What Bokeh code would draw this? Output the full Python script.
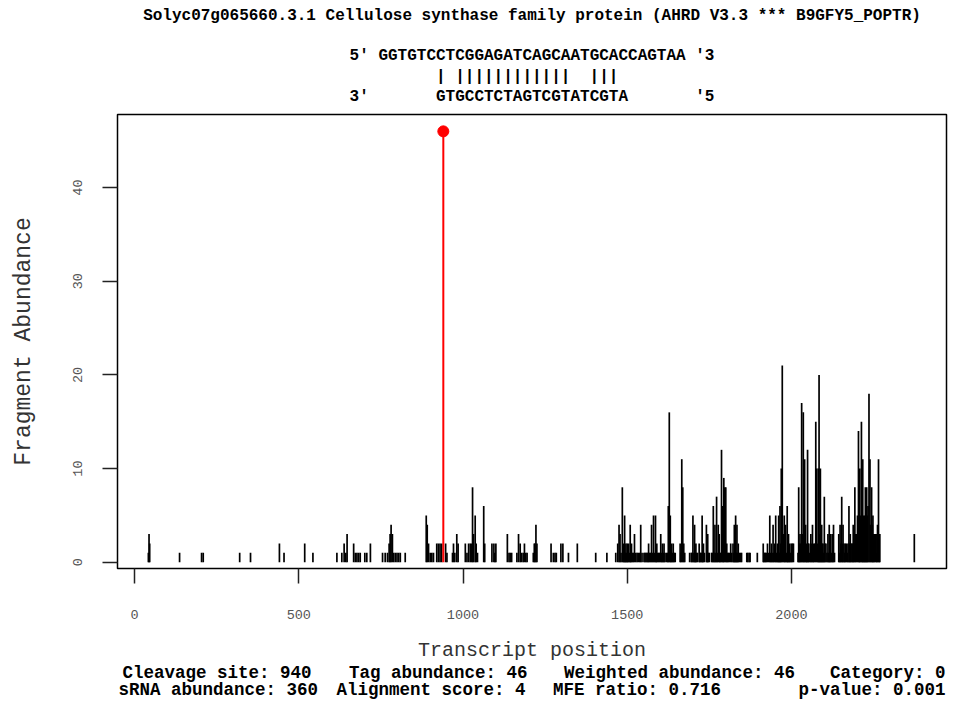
from bokeh.plotting import figure
from bokeh.layouts import column
from bokeh.models import Range1d, FixedTicker, Label, ColumnDataSource
from bokeh.embed import file_html
from bokeh.resources import INLINE

# ---------------- data ----------------
title_text = "Solyc07g065660.3.1 Cellulose synthase family protein (AHRD V3.3 *** B9GFY5_POPTR)"
target_seq = "GGTGTCCTCGGAGATCAGCAATGCACCAGTAA"
srna_seq = "GTGCCTCTAGTCGTATCGTA"      # written 3' -> 5'
srna_offset = 6                         # index in target where sRNA starts
cleavage_site = 940
tag_abundance = 46

info_line1 = ["Cleavage site: 940", "Tag abundance: 46", "Weighted abundance: 46", "Category: 0"]
info_line2 = ["sRNA abundance: 360", "Alignment score: 4", "MFE ratio: 0.716", "p-value: 0.001"]

x_ticks = [0, 500, 1000, 1500, 2000]
y_ticks = [0, 10, 20, 30, 40]

positions = [
    42, 44, 46, 137, 204, 209, 320, 353, 441, 455, 518, 543,
    616, 631, 638, 643, 647, 667, 672, 677, 682, 687, 701, 707, 718,
    755, 763, 770, 775, 778, 781, 785, 789, 794, 799, 804, 809, 824,
    888, 891, 895, 900, 905, 910, 920, 925, 930, 935, 947, 951, 968, 971, 975,
    981, 985, 1007, 1012, 1017, 1022, 1026, 1029, 1032, 1037, 1040, 1044,
    1063, 1066, 1088, 1094, 1097, 1100, 1135, 1140, 1144, 1148, 1164, 1169,
    1174, 1178, 1183, 1187, 1191, 1195,
    1214, 1217, 1219, 1222, 1225, 1268, 1275, 1280, 1284, 1298, 1304, 1321,
    1348, 1404, 1438,
    1465, 1471, 1475, 1478, 1481, 1485, 1488, 1490, 1492, 1494, 1496, 1498,
    1500, 1502, 1504, 1507, 1509, 1511, 1513, 1516, 1519, 1522, 1526, 1530,
    1534, 1538, 1541, 1545, 1551, 1554, 1557, 1560, 1563, 1565, 1568, 1571,
    1574, 1577, 1580, 1583, 1586, 1588, 1590, 1593, 1596, 1599, 1602, 1605,
    1607, 1610, 1612, 1615, 1620, 1623, 1625, 1628, 1631, 1633, 1635, 1638,
    1640, 1643, 1646, 1661, 1663, 1666, 1669, 1672, 1675, 1690, 1695, 1697,
    1700, 1703, 1705, 1707, 1709, 1711, 1714, 1719, 1721, 1723, 1726, 1728,
    1730, 1732, 1735, 1741, 1743, 1745, 1747, 1750, 1757, 1759, 1762, 1764,
    1767, 1769, 1772, 1774, 1777, 1780, 1782, 1784, 1787, 1790, 1792, 1794,
    1797, 1800, 1803, 1805, 1808, 1811, 1815, 1818, 1822, 1824, 1826, 1828,
    1830, 1832, 1834, 1836, 1838, 1841, 1845, 1848, 1864, 1867, 1871, 1874,
    1896,
    1914, 1916, 1918, 1921, 1923, 1927, 1930, 1934, 1936, 1939, 1941, 1944,
    1946, 1949, 1952, 1954, 1957, 1959, 1961, 1963, 1965, 1967, 1969, 1972,
    1975, 1978, 1980, 1982, 1985, 1987, 1989, 1991, 1993, 1995, 1998, 2000,
    2003, 2006,
    2020, 2022, 2024, 2026, 2028, 2031, 2033, 2036, 2038, 2040, 2043, 2045,
    2047, 2049, 2051, 2053, 2056, 2059, 2061, 2064, 2066, 2068, 2071, 2074,
    2077, 2080, 2082, 2084, 2086, 2088, 2090, 2092, 2094, 2096, 2098, 2100,
    2102, 2105, 2108, 2111, 2113, 2115, 2117, 2119, 2121, 2124, 2126, 2128,
    2131, 2144, 2146, 2148, 2150, 2153, 2155, 2157, 2160, 2162, 2164, 2167,
    2170, 2172, 2175, 2177, 2179, 2181, 2184, 2186, 2188, 2190, 2193, 2195,
    2198, 2201, 2204, 2206, 2208, 2210, 2213, 2215, 2217, 2219, 2221, 2223,
    2225, 2227, 2229, 2231, 2233, 2236, 2239, 2241, 2244, 2246, 2248, 2250,
    2252, 2255, 2258, 2260, 2262, 2265, 2267, 2269, 2374,
]

abundance = [
    1, 3, 2, 1, 1, 1, 1, 1, 2, 1, 2, 1,
    1, 1, 2, 1, 3, 2, 1, 1, 1, 1, 1, 1, 2,
    1, 1, 1, 2, 3, 4, 3, 1, 1, 1, 1, 1, 1,
    5, 4, 2, 1, 1, 1, 2, 2, 2, 2, 2, 1, 1, 2, 1,
    3, 2, 2, 1, 2, 2, 2, 8, 3, 5, 2, 1,
    6, 2, 2, 2, 1, 2, 3, 1, 1, 1, 1, 3,
    2, 1, 1, 2, 1, 1,
    1, 2, 2, 4, 2, 2, 1, 1, 1, 2, 2, 1,
    2, 1, 1,
    1, 2, 4, 3, 1, 8, 2, 1, 5, 1, 2, 1,
    2, 1, 2, 1, 4, 1, 2, 1, 1, 3, 1, 1,
    1, 1, 4, 1, 1, 1, 1, 1, 1, 2, 1, 1,
    4, 1, 5, 1, 5, 1, 2, 1, 1, 1, 3, 1,
    2, 1, 2, 1, 1, 1, 6, 16, 5, 1, 2, 1,
    2, 1, 1, 2, 1, 11, 8, 2, 1, 1, 1, 1,
    5, 1, 4, 1, 2, 1, 1, 2, 1, 1, 1, 5,
    1, 2, 1, 4, 1, 3, 1, 1, 1, 1, 6, 1,
    4, 1, 7, 1, 4, 3, 1, 1, 12, 6, 1, 9,
    8, 8, 2, 1, 1, 1, 2, 1, 2, 1, 4, 1,
    5, 1, 4, 1, 2, 1, 1, 1, 1, 1, 1, 1,
    1,
    2, 1, 1, 1, 1, 2, 1, 5, 1, 2, 1, 4,
    1, 2, 5, 1, 2, 1, 5, 1, 6, 2, 10, 21,
    3, 5, 2, 4, 1, 6, 2, 3, 1, 2, 1, 2,
    2, 2,
    1, 8, 2, 3, 2, 17, 3, 16, 2, 11, 4, 2,
    1, 12, 2, 2, 1, 3, 2, 4, 1, 2, 2, 15,
    10, 2, 10, 20, 3, 10, 2, 4, 2, 2, 1, 7,
    2, 2, 1, 3, 1, 4, 2, 3, 1, 3, 1, 4,
    1, 3, 1, 4, 2, 7, 2, 4, 2, 1, 2, 2,
    1, 2, 6, 2, 3, 2, 2, 2, 4, 2, 8, 3,
    3, 5, 14, 4, 10, 5, 15, 5, 11, 5, 4, 5,
    8, 5, 8, 5, 6, 18, 11, 4, 8, 4, 5, 3,
    3, 3, 1, 3, 4, 11, 3, 3, 3,
]

# ---------------- layout constants ----------------
MONO = "Liberation Mono"
W = 950
BORDER_L = 117
BORDER_R = 4
FRAME_L = BORDER_L
FRAME_R = W - BORDER_R
HEADER_H = 106
MAIN_H = 558          # main figure spans y 106 .. 664
FOOTER_H = 699 - HEADER_H - MAIN_H


def text_fig(h):
    # frames of plots in a column are aligned, so the x range maps 1:1 to page pixels
    f = figure(width=W, height=h, output_backend="svg", toolbar_location=None,
               x_range=Range1d(FRAME_L, FRAME_R), y_range=Range1d(h, 0),
               x_axis_location=None, y_axis_location=None, min_border=0)
    f.outline_line_color = None
    f.background_fill_color = "white"
    f.border_fill_color = "white"
    f.grid.visible = False
    return f


def add_text(f, txt, x, y, size="16px", align="left"):
    f.add_layout(Label(text=txt, x=x, y=y, text_font=MONO, text_font_size=size,
                       text_font_style="bold", text_align=align,
                       text_baseline="middle", text_color="black"))


# ---------------- header: title + alignment ----------------
header = text_fig(HEADER_H)
add_text(header, title_text, 531.5, 15, align="center")

cw = 9.6              # 16px monospace advance
x0 = 531.5 - 19 * cw  # 38-character lines centred on the plot
add_text(header, "5' " + target_seq + " '3", x0, 55)
comp = {"A": "T", "T": "A", "G": "C", "C": "G"}
match = [comp[s] == target_seq[srna_offset + i] for i, s in enumerate(srna_seq)]
i = 0
while i < len(match):
    if match[i]:
        j = i
        while j < len(match) and match[j]:
            j += 1
        add_text(header, "|" * (j - i), x0 + (3 + srna_offset + i) * cw, 76.5)
        i = j
    else:
        i += 1
add_text(header, "3'", x0, 96)
add_text(header, srna_seq, x0 + (3 + srna_offset) * cw, 96)
add_text(header, "'5", x0 + (3 + len(target_seq) + 1) * cw, 96)

# ---------------- main plot ----------------
p = figure(width=W, height=MAIN_H, output_backend="svg", toolbar_location=None,
           x_range=Range1d(-52, 2472), y_range=Range1d(-0.67, 47.8),
           min_border_left=BORDER_L, min_border_right=BORDER_R, min_border_top=8,
           min_border_bottom=MAIN_H - 8 - 454)
p.background_fill_color = "white"
p.border_fill_color = "white"
p.outline_line_color = "black"
p.outline_line_width = 1.5
p.xgrid.grid_line_color = None
p.ygrid.grid_line_color = None

for ax, ticks in ((p.xaxis, x_ticks), (p.yaxis, y_ticks)):
    ax.ticker = FixedTicker(ticks=ticks)
    ax.minor_tick_line_color = None
    ax.major_tick_in = 0
    ax.major_tick_out = 15
    ax.major_tick_line_color = "#222222"
    ax.major_tick_line_width = 1.5
    ax.axis_line_color = None
    ax.major_label_text_font = MONO
    ax.major_label_text_font_size = "13.5px"
    ax.major_label_text_color = "#555555"
    ax.axis_label_text_font = MONO
    ax.axis_label_text_font_style = "normal"
    ax.axis_label_text_color = "#333333"

p.xaxis.axis_label = "Transcript position"
p.xaxis.axis_label_text_font_size = "20px"
p.xaxis.major_label_standoff = 26
p.xaxis.axis_label_standoff = 17

p.yaxis.axis_label = "Fragment Abundance"
p.yaxis.axis_label_text_font_size = "23px"
p.yaxis.major_label_orientation = "vertical"
p.yaxis.major_label_standoff = 20
p.yaxis.axis_label_standoff = 34

src = ColumnDataSource(data=dict(x=positions, y=abundance, y0=[0] * len(positions)))
p.segment(x0="x", y0="y0", x1="x", y1="y", source=src, line_color="black", line_width=1.7)

p.segment(x0=[cleavage_site], y0=[0], x1=[cleavage_site], y1=[tag_abundance],
          line_color="red", line_width=2)
p.scatter(x=[cleavage_site], y=[tag_abundance], size=11, color="red")

# ---------------- footer: info lines ----------------
footer = text_fig(FOOTER_H)
top = HEADER_H + MAIN_H
FS = "17.5px"
line1_x = [122, 348.5, 563.5]
for t, xx in zip(info_line1[:3], line1_x):
    add_text(footer, t, xx, 672 - top, size=FS)
add_text(footer, info_line1[3], FRAME_R - 1, 672 - top, size=FS, align="right")
line2_x = [FRAME_L + 1, 336, 552.5]
for t, xx in zip(info_line2[:3], line2_x):
    add_text(footer, t, xx, 689.5 - top, size=FS)
add_text(footer, info_line2[3], FRAME_R - 1, 689.5 - top, size=FS, align="right")

layout = column(header, p, footer, spacing=0)
open("out.html", "w").write(file_html(layout, INLINE))
